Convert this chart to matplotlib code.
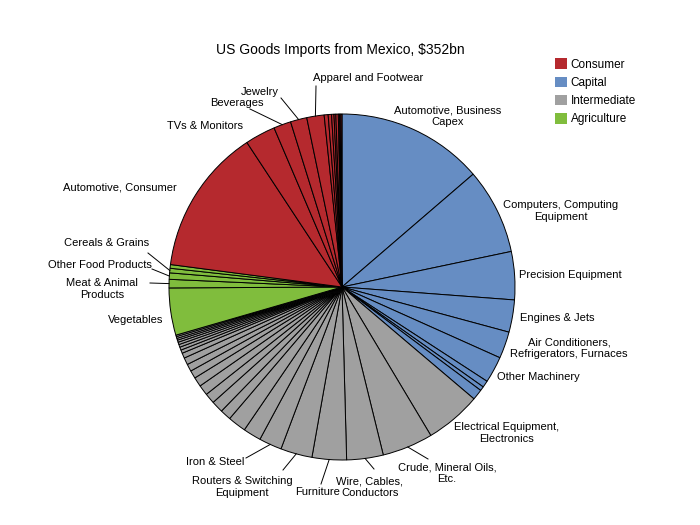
import numpy as np
import matplotlib
matplotlib.use("Agg")
import matplotlib.pyplot as plt
from matplotlib.patches import Patch

plt.rcParams['font.family'] = ['Liberation Sans', 'DejaVu Sans']

# ---------------- data ($bn), clockwise from 12 o'clock ----------------
capital_labels = ["Automotive, Business\nCapex", "Computers, Computing\nEquipment",
                  "Precision Equipment", "Engines & Jets",
                  "Air Conditioners,\nRefrigerators, Furnaces", "Other Machinery", "", "", ""]
capital_values = [48.2, 28.2, 15.8, 10.6, 8.8, 8.7, 2.2, 1.4, 3.5]

intermediate_labels = ["Electrical Equipment,\nElectronics", "Crude, Mineral Oils,\nEtc.",
                       "Wire, Cables,\nConductors", "Furniture", "Routers & Switching\nEquipment",
                       "Iron & Steel", "", "", "", "", "", "", "", "", "", "", "",
                       "", "", "", "", "", "", "", ""]
intermediate_values = [18.4, 16.7, 12.0, 11.3, 10.4, 7.5, 5.9, 6.0, 3.6, 3.9, 3.4, 3.4,
                       3.1, 2.6, 2.4, 2.3, 1.7, 1.1, 1.0, 0.9, 0.8, 0.7, 0.6, 0.6, 0.5]

agriculture_labels = ["Vegetables", "Meat & Animal\nProducts", "Other Food Products",
                      "Cereals & Grains", ""]
agriculture_values = [15.5, 2.8, 2.1, 1.5, 1.2]

consumer_labels = ["Automotive, Consumer", "TVs & Monitors", "Beverages", "Jewelry",
                   "Apparel and Footwear", "", "", "", "", "", "", "", ""]
consumer_values = [48.1, 10.0, 5.7, 5.4, 5.7, 1.3, 1.1, 0.8, 0.6, 0.8, 0.4, 0.4, 0.4]

categories = ["Consumer", "Capital", "Intermediate", "Agriculture"]
cat_colors = {"Consumer": "#B5292E", "Capital": "#668DC3",
              "Intermediate": "#A0A0A0", "Agriculture": "#80BD3D"}

title = "US Goods Imports from Mexico, $352bn"

# ---------------- assemble ----------------
values, labels, colors = [], [], []
for cat, labs, vals in [("Capital", capital_labels, capital_values),
                        ("Intermediate", intermediate_labels, intermediate_values),
                        ("Agriculture", agriculture_labels, agriculture_values),
                        ("Consumer", consumer_labels, consumer_values)]:
    values += vals
    labels += labs
    colors += [cat_colors[cat]] * len(vals)

# ---------------- layout (pixels in a 700x525 figure) ----------------
W, H = 700, 525
CX, CY, R = 342, 287, 173
label_layout = {
    "Automotive, Business\nCapex": (448, 116, 'center', None),
    "Computers, Computing\nEquipment": (503, 211, 'left', None),
    "Precision Equipment": (519, 275, 'left', None),
    "Engines & Jets": (520, 318, 'left', None),
    "Air Conditioners,\nRefrigerators, Furnaces": (569, 348, 'center', None),
    "Other Machinery": (497, 377, 'left', None),
    "Electrical Equipment,\nElectronics": (507, 433, 'center', None),
    "Crude, Mineral Oils,\nEtc.": (447, 473, 'center', (428, 459)),
    "Wire, Cables,\nConductors": (370, 487, 'center', (374, 469)),
    "Furniture": (318, 492, 'center', (321, 484)),
    "Routers & Switching\nEquipment": (242, 487, 'center', (283, 470)),
    "Iron & Steel": (215, 462, 'center', (246, 458)),
    "Vegetables": (163, 320, 'right', None),
    "Meat & Animal\nProducts": (102, 289, 'center', (150, 283)),
    "Other Food Products": (100, 265, 'center', (152, 269)),
    "Cereals & Grains": (107, 243, 'center', (148, 253)),
    "Automotive, Consumer": (177, 187, 'right', None),
    "TVs & Monitors": (205, 126, 'center', None),
    "Beverages": (237, 103, 'center', (250, 109)),
    "Jewelry": (260, 92, 'center', (281, 98)),
    "Apparel and Footwear": (368, 78, 'center', (316, 86)),
}


def px2data(px, py):
    return (px - CX) / R, (CY - py) / R


fig = plt.figure(figsize=(7, 5.25), dpi=100)
ax = fig.add_axes([(CX - R) / W, (H - CY - R) / H, 2 * R / W, 2 * R / H])
wedges, _ = ax.pie(values, colors=colors, startangle=90, counterclock=False, radius=1,
                   wedgeprops=dict(edgecolor='black', linewidth=0.7))
ax.set_xlim(-1, 1)
ax.set_ylim(-1, 1)
ax.axis('off')

for w, lab in zip(wedges, labels):
    if not lab:
        continue
    tx, ty, ha, lead = label_layout[lab]
    x, y = px2data(tx, ty)
    ax.text(x, y, lab, ha=ha, va='center', multialignment='center',
            fontsize=8, clip_on=False)
    if lead is not None:
        mid = np.deg2rad((w.theta1 + w.theta2) / 2)
        ex, ey = np.cos(mid), np.sin(mid)
        sx, sy = px2data(*lead)
        ax.plot([sx, ex], [sy, ey], color='black', lw=0.7, clip_on=False)

fig.text(340 / W, 1 - 50 / H, title, ha='center', va='center', fontsize=10)

handles = [Patch(facecolor=cat_colors[c], edgecolor='none', label=c) for c in categories]
fig.legend(handles=handles, loc='upper left', bbox_to_anchor=(553 / W, 1 - 56 / H),
           frameon=False, fontsize=8.5, handlelength=1.0, handleheight=1.0,
           handletextpad=0.3, labelspacing=0.5, borderaxespad=0, borderpad=0.2)

fig.savefig("out.png", dpi=100)
